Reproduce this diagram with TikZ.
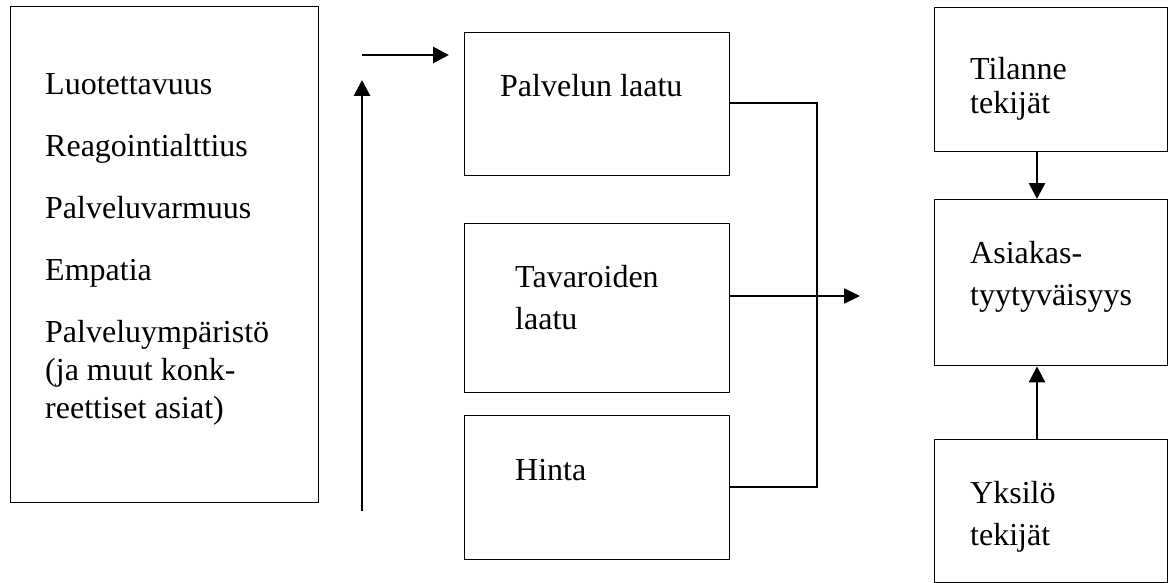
\documentclass[tikz,border=0pt]{standalone}
\usepackage{fontspec}
\setmainfont{Liberation Serif}
\usetikzlibrary{arrows.meta}
\begin{document}
\begin{tikzpicture}[x=1pt,y=-1pt,
  boxnode/.style={draw,line width=1.4pt,anchor=north west,inner sep=0pt,minimum width=#1},
  lbl/.style={anchor=base west,inner sep=0pt,font=\fontsize{32}{40}\selectfont},
  thickarrow/.style={line width=2.8pt,-{Triangle[length=16pt,width=16pt]}},
  thinline/.style={line width=1.4pt},
  midarrow/.style={line width=2.2pt,-{Triangle[length=16pt,width=15pt]}}]
\useasboundingbox (0,0) rectangle (1170,583);
% boxes
\node[boxnode=308pt,minimum height=496pt] (L) at (10,6) {};
\node[boxnode=265pt,minimum height=143pt] (PL) at (464,32) {};
\node[boxnode=265pt,minimum height=169pt] (TL) at (464,223) {};
\node[boxnode=265pt,minimum height=144pt] (HI) at (464,415) {};
\node[boxnode=233pt,minimum height=144pt] (TT) at (934,7) {};
\node[boxnode=233pt,minimum height=166pt] (AS) at (934,199) {};
\node[boxnode=233pt,minimum height=143pt] (YT) at (934,439) {};
% left texts
\node[lbl] (t1) at (45,95) {Luotettavuus};
\node[lbl] (t2) at (45,157) {Reagointialttius};
\node[lbl] (t3) at (45,218) {Palveluvarmuus};
\node[lbl] (t4) at (45,280) {Empatia};
\node[lbl] (t5) at (45,342) {Palveluympäristö};
\node[lbl] (t6) at (45,380) {(ja muut konk-};
\node[lbl] (t7) at (45,418) {reettiset asiat)};
% middle texts
\node[lbl] (p1) at (500,97) {Palvelun laatu};
\node[lbl] (p2) at (515,287) {Tavaroiden};
\node[lbl] (p3) at (515,329) {laatu};
\node[lbl] (p4) at (515,480) {Hinta};
% right texts
\node[lbl] (r1) at (970,80) {Tilanne};
\node[lbl] (r2) at (970,114) {tekijät};
\node[lbl] (r3) at (970,263) {Asiakas-};
\node[lbl] (r4) at (970,305) {tyytyväisyys};
\node[lbl] (r5) at (970,503) {Yksilö};
\node[lbl] (r6) at (970,545) {tekijät};
% coordinates
\coordinate (vb) at (362,511);
\coordinate (vt) at (362,80);
\coordinate (hs) at (362,55);
\coordinate (he) at (449,55);
\coordinate (jx) at (817,103);
\coordinate (jb) at (817,487);
\coordinate (ae) at (860,296);
% connectors
\draw[thickarrow] (vb) -- (vt);
\draw[thickarrow] (hs) -- (he);
\draw[thinline] (PL.east |- jx) -- (jx) -- (jb) -- (HI.east |- jb);
\draw[midarrow] (TL.east |- ae) -- (ae);
\draw[thickarrow] (TT.south -| 1037,0) -- (AS.north -| 1037,0);
\draw[thickarrow] (YT.north -| 1037,0) -- (AS.south -| 1037,0);
\end{tikzpicture}
\end{document}
